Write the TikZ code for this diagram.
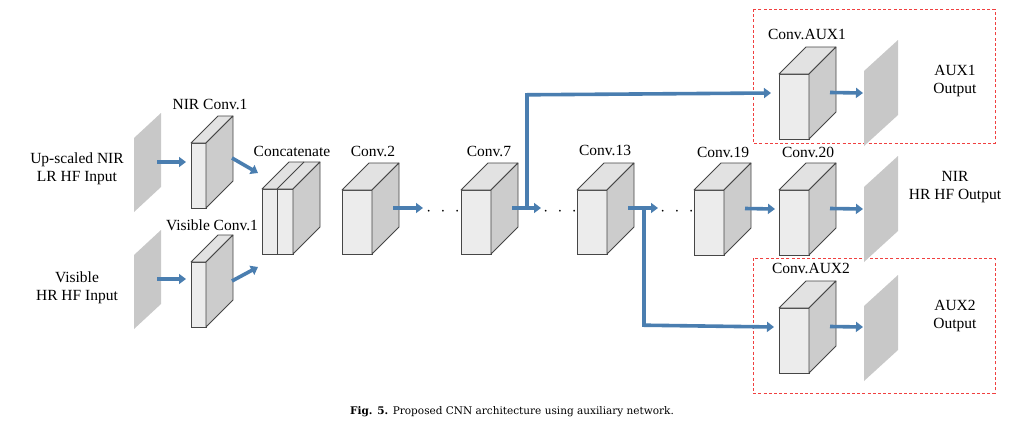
\documentclass[tikz,border=0pt]{standalone}
\usepackage{fontspec}
\setmainfont{Liberation Serif}
\newfontfamily\capfont{DejaVu Serif}
\usetikzlibrary{arrows.meta,calc}
\definecolor{arrblue}{RGB}{74,126,176}
\definecolor{edgegray}{RGB}{70,70,70}
\definecolor{frontfill}{RGB}{236,236,236}
\definecolor{topfill}{RGB}{226,226,226}
\definecolor{sidefill}{RGB}{204,204,204}
\definecolor{panelfill}{RGB}{200,200,200}
\definecolor{boxred}{RGB}{240,64,64}
\tikzset{
  front/.style={draw=edgegray, fill=frontfill, line width=0.8pt, inner sep=0pt, outer sep=0pt},
  topface/.style={draw=edgegray, fill=topfill, line width=0.8pt, line join=round},
  sideface/.style={draw=edgegray, fill=sidefill, line width=0.8pt, line join=round},
  panel/.style={fill=panelfill},
  arr/.style={draw=arrblue, line width=3.6pt, -{Triangle[length=7pt,width=10pt]}},
  pipe/.style={draw=arrblue, line width=3.6pt},
  lbl/.style={font=\fontsize{15.5}{18}\selectfont, inner sep=0pt, align=center},
  dotsnode/.style={font=\fontsize{16}{18}\selectfont, inner sep=0pt},
  auxbox/.style={draw=boxred, line width=1pt, dash pattern=on 3pt off 2.2pt}
}
\newcommand\cnnblock[5]{%
  \node[front, minimum width=#4pt, minimum height=#5pt, anchor=north west] (#1) at (#2,#3) {};
  \draw[topface] (#1.north west) -- ++(27,-27) -- ++(#4,0) -- (#1.north east) -- cycle;
  \draw[sideface] (#1.north east) -- ++(27,-27) -- ++(0,#5) -- (#1.south east) -- cycle;
  \coordinate (#1-out) at ($(#1.east)+(21,-14)$);
}
\newcommand\imgpanel[6]{% left x, right x, left top, left bottom, right top, right bottom
  \fill[panel] (#1,#3) -- (#2,#5) -- (#2,#6) -- (#1,#4) -- cycle;
}
\begin{document}
\begin{tikzpicture}[x=1pt,y=-1pt]
\useasboundingbox (0,0) rectangle (1020,423);
\fill[white] (0,0) rectangle (1020,423);

% dashed auxiliary boxes
\draw[auxbox] (753,9) rectangle (995,143);
\draw[auxbox] (753,258) rectangle (995,393);

% input panels
\imgpanel{134}{161}{138}{212}{113}{187}
\imgpanel{134}{161}{255}{329}{230}{304}
% output panels
\imgpanel{864}{898}{71}{146}{40}{115}
\imgpanel{864}{898}{187}{262}{156}{231}
\imgpanel{864}{898}{306}{381}{275}{350}

% blocks
\cnnblock{nirc}{191}{143}{15}{65}
\cnnblock{visc}{191}{262}{15}{65}
\cnnblock{concat}{262}{189}{31}{65}
\draw[edgegray, line width=0.8pt] ($(concat.north west)+(15,0)$) -- ++(0,65);
\draw[edgegray, line width=0.8pt] ($(concat.north west)+(15,0)$) -- ++(27,-27);
\cnnblock{conv2}{342}{190}{30}{64}
\cnnblock{conv7}{461}{190}{30}{64}
\cnnblock{conv13}{577}{190}{30}{64}
\cnnblock{conv19}{694}{190}{30}{65}
\cnnblock{conv20}{779}{190}{30}{65}
\cnnblock{aux1}{779}{74}{30}{65}
\cnnblock{aux2}{779}{308}{30}{65}

% labels
\node[lbl] (l-nirc) at (210,104) {NIR Conv.1};
\node[lbl] (l-visc) at (212,225) {Visible Conv.1};
\node[lbl] (l-concat) at (292,151) {Concatenate};
\node[lbl] (l-conv2) at (373,151) {Conv.2};
\node[lbl] (l-conv7) at (489,151) {Conv.7};
\node[lbl] (l-conv13) at (605,150) {Conv.13};
\node[lbl] (l-conv19) at (723,152) {Conv.19};
\node[lbl] (l-conv20) at (808,152) {Conv.20};
\node[lbl] (l-aux1) at (807,34) {Conv.AUX1};
\node[lbl] (l-aux2) at (811,268) {Conv.AUX2};
\node[lbl] (l-in1) at (77,169) {Up-scaled NIR\\LR HF Input};
\node[lbl] (l-in2) at (77,288) {Visible\\HR HF Input};
\node[lbl] (l-o1) at (955,81) {AUX1\\Output};
\node[lbl] (l-o2) at (955,187) {NIR\\HR HF Output};
\node[lbl] (l-o3) at (955,316) {AUX2\\Output};

% dots
\node[dotsnode] (d1) at (443,212) {$\cdot\kern5.6pt\cdot\kern5.6pt\cdot$};
\node[dotsnode] (d2) at (560,212) {$\cdot\kern5.6pt\cdot\kern5.6pt\cdot$};
\node[dotsnode] (d3) at (677,212) {$\cdot\kern5.6pt\cdot\kern5.6pt\cdot$};

% coordinates for connector ends
\coordinate (in1) at (157,162);
\coordinate (in2) at (157,279);
\coordinate (nirc-in) at (186,162);
\coordinate (visc-in) at (186,279);
\coordinate (nirc-o) at (232,158);
\coordinate (visc-o) at (232,281);
\coordinate (cat-a) at (258,173);
\coordinate (cat-b) at (258,267);
\coordinate (d1-in) at (423,208);
\coordinate (d2-in) at (541,208);
\coordinate (d3-in) at (658,208);
\coordinate (br7) at (527,208);
\coordinate (br7up) at (527,93);
\coordinate (aux1-in) at (771,93);
\coordinate (br13) at (644,208);
\coordinate (br13dn) at (644,327);
\coordinate (aux2-in) at (774,327);
\coordinate (conv20-in) at (775,209);
\coordinate (o1-in) at (863,93);
\coordinate (o2-in) at (863,209);
\coordinate (o3-in) at (863,327);

% connectors
\draw[arr] (in1) -- (nirc-in);
\draw[arr] (in2) -- (visc-in);
\draw[arr] (nirc-o) -- (cat-a);
\draw[arr] (visc-o) -- (cat-b);
\draw[arr] (conv2-out) -- (d1-in);
\draw[arr] (conv7-out) -- (d2-in);
\draw[arr] (conv13-out) -- (d3-in);
\draw[pipe] (br7) -- (br7up);
\draw[arr] ([yshift=-1.8pt]br7up) -- (aux1-in);
\draw[pipe] (br13) -- (br13dn);
\draw[arr] ([yshift=1.8pt]br13dn) -- (aux2-in);
\draw[arr] (conv19-out) -- (conv20-in);
\draw[arr] (conv20-out) -- (o2-in);
\draw[arr] (aux1-out) -- (o1-in);
\draw[arr] (aux2-out) -- (o3-in);

% caption
\node[font=\capfont\fontsize{10.5}{12}\selectfont, inner sep=0pt] (cap) at (512,412) {\textbf{Fig. 5.} Proposed CNN architecture using auxiliary network.};
\end{tikzpicture}
\end{document}
